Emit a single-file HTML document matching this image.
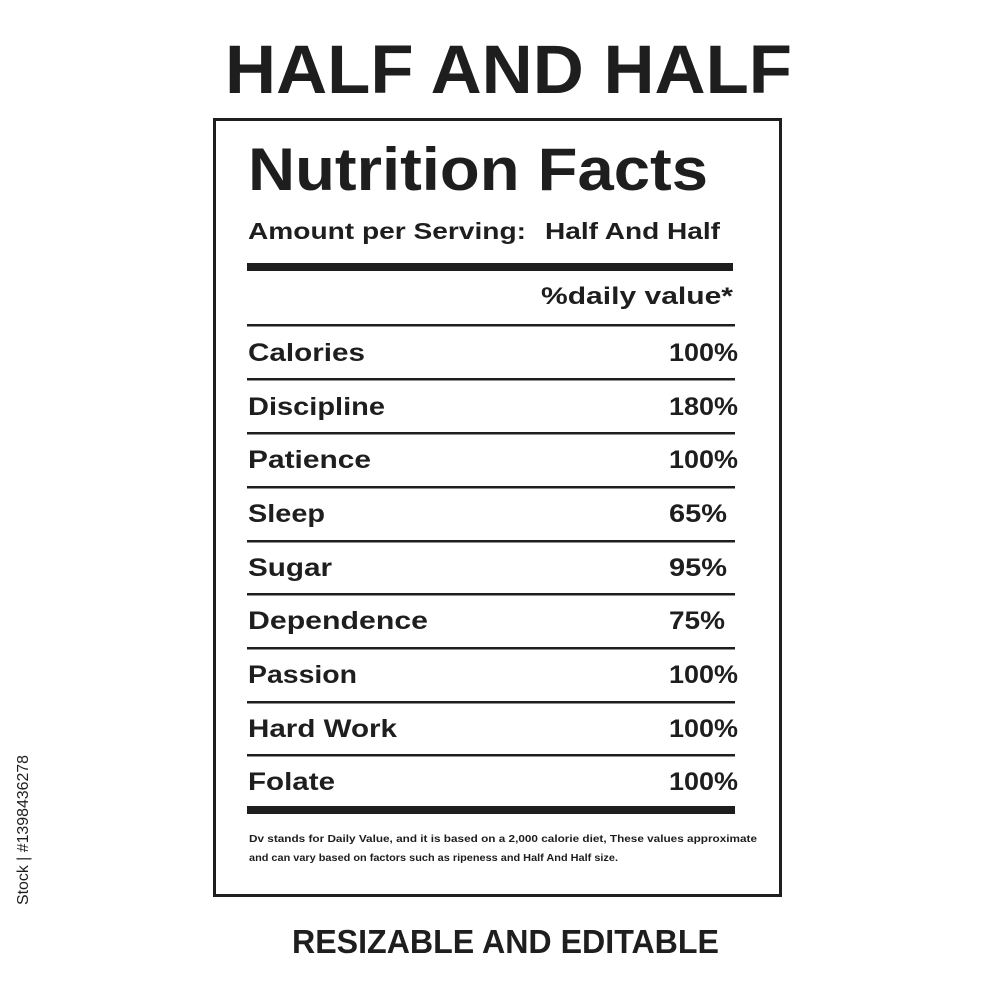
<!DOCTYPE html>
<html><head><meta charset="utf-8"><style>
html,body{margin:0;padding:0;background:#fff;}
svg{display:block;}
text{font-family:"Liberation Sans",sans-serif;font-weight:bold;fill:#1e1e1e;}
</style></head><body>
<svg width="1000" height="1000" viewBox="0 0 1000 1000" xmlns="http://www.w3.org/2000/svg">
<rect width="1000" height="1000" fill="#fff"/>
<text x="225" y="93" font-size="69" textLength="567" lengthAdjust="spacingAndGlyphs">HALF AND HALF</text>
<rect x="214.5" y="119.5" width="566" height="776" fill="none" stroke="#1e1e1e" stroke-width="3"/>
<text x="248" y="190" font-size="60" textLength="460" lengthAdjust="spacingAndGlyphs">Nutrition Facts</text>
<text x="248" y="239" font-size="23" textLength="278" lengthAdjust="spacingAndGlyphs">Amount per Serving:</text>
<text x="545" y="239" font-size="23" textLength="175" lengthAdjust="spacingAndGlyphs">Half And Half</text>
<rect x="247" y="263" width="486" height="8" fill="#1e1e1e"/>
<text x="541" y="304" font-size="24" textLength="192" lengthAdjust="spacingAndGlyphs">%daily value*</text>
<g fill="#1e1e1e">
<rect x="247" y="324" width="488" height="2.5"/>
<rect x="247" y="378" width="488" height="2.5"/>
<rect x="247" y="432" width="488" height="2.5"/>
<rect x="247" y="486" width="488" height="2.5"/>
<rect x="247" y="540" width="488" height="2.5"/>
<rect x="247" y="593" width="488" height="2.5"/>
<rect x="247" y="647" width="488" height="2.5"/>
<rect x="247" y="701" width="488" height="2.5"/>
<rect x="247" y="754" width="488" height="2.5"/>
<rect x="247" y="806" width="488" height="8"/>
</g>
<g font-size="25">
<text x="248" y="361" textLength="117" lengthAdjust="spacingAndGlyphs">Calories</text>
<text x="669" y="361" textLength="69" lengthAdjust="spacingAndGlyphs">100%</text>
<text x="248" y="415" textLength="137" lengthAdjust="spacingAndGlyphs">Discipline</text>
<text x="669" y="415" textLength="69" lengthAdjust="spacingAndGlyphs">180%</text>
<text x="248" y="468" textLength="123" lengthAdjust="spacingAndGlyphs">Patience</text>
<text x="669" y="468" textLength="69" lengthAdjust="spacingAndGlyphs">100%</text>
<text x="248" y="522" textLength="77" lengthAdjust="spacingAndGlyphs">Sleep</text>
<text x="669" y="522" textLength="58" lengthAdjust="spacingAndGlyphs">65%</text>
<text x="248" y="576" textLength="84" lengthAdjust="spacingAndGlyphs">Sugar</text>
<text x="669" y="576" textLength="58" lengthAdjust="spacingAndGlyphs">95%</text>
<text x="248" y="629" textLength="180" lengthAdjust="spacingAndGlyphs">Dependence</text>
<text x="669" y="629" textLength="56" lengthAdjust="spacingAndGlyphs">75%</text>
<text x="248" y="683" textLength="109" lengthAdjust="spacingAndGlyphs">Passion</text>
<text x="669" y="683" textLength="69" lengthAdjust="spacingAndGlyphs">100%</text>
<text x="248" y="737" textLength="149" lengthAdjust="spacingAndGlyphs">Hard Work</text>
<text x="669" y="737" textLength="69" lengthAdjust="spacingAndGlyphs">100%</text>
<text x="248" y="790" textLength="87" lengthAdjust="spacingAndGlyphs">Folate</text>
<text x="669" y="790" textLength="69" lengthAdjust="spacingAndGlyphs">100%</text>
</g>
<text x="249" y="842" font-size="10" textLength="508" lengthAdjust="spacingAndGlyphs">Dv stands for Daily Value, and it is based on a 2,000 calorie diet, These values approximate</text>
<text x="249" y="861" font-size="10" textLength="369" lengthAdjust="spacingAndGlyphs">and can vary based on factors such as ripeness and Half And Half size.</text>
<text x="292" y="953" font-size="33" textLength="427" lengthAdjust="spacingAndGlyphs">RESIZABLE AND EDITABLE</text>
<text transform="translate(28,905) rotate(-90)" font-size="16" font-weight="normal" style="font-weight:normal" textLength="150" lengthAdjust="spacingAndGlyphs">Stock | #1398436278</text>
</svg>
</body></html>
